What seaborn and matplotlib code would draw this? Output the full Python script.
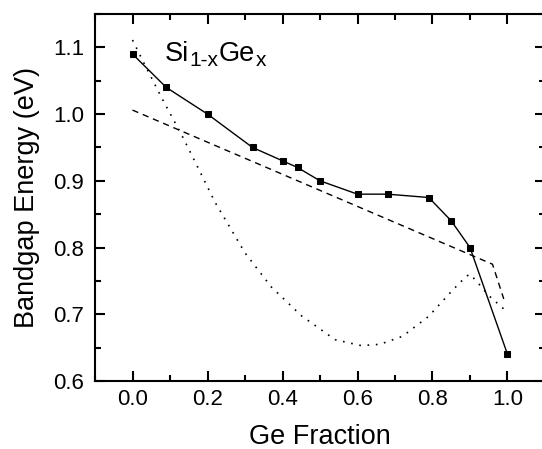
import matplotlib
matplotlib.use("Agg")
import matplotlib.pyplot as plt
from matplotlib.ticker import MultipleLocator
import seaborn as sns
import pandas as pd

# Measured bandgap vs Ge fraction
ge_measured = [0.0, 0.09, 0.2, 0.32, 0.40, 0.44, 0.5, 0.6, 0.68, 0.79, 0.85, 0.9, 1.0]
eg_measured = [1.09, 1.04, 1.0, 0.95, 0.93, 0.92, 0.90, 0.88, 0.88, 0.875, 0.84, 0.80, 0.64]

# Linear (dashed) model
ge_linear = [0.0, 0.96, 0.99]
eg_linear = [1.006, 0.775, 0.723]

# Bowing (dotted) model
ge_bowing = [0.0, 0.03, 0.08, 0.13, 0.17, 0.22, 0.30, 0.37, 0.45, 0.54,
             0.61, 0.66, 0.72, 0.79, 0.85, 0.89, 0.90, 0.92, 0.95, 0.99]
eg_bowing = [1.111, 1.077, 1.022, 0.970, 0.925, 0.868, 0.792, 0.741, 0.698, 0.662,
             0.653, 0.655, 0.667, 0.697, 0.734, 0.757, 0.760, 0.748, 0.728, 0.708]

x_ticks = [0.0, 0.2, 0.4, 0.6, 0.8, 1.0]
y_ticks = [0.6, 0.7, 0.8, 0.9, 1.0, 1.1]

sns.set_theme(style="ticks")
plt.rcParams["font.family"] = ["Liberation Sans", "DejaVu Sans"]

fig = plt.figure(figsize=(5.42, 4.49), dpi=100)
ax = fig.add_axes([95 / 542, 68 / 449, 450 / 542, 367 / 449])

measured = pd.DataFrame({"x": ge_measured, "y": eg_measured})
linear = pd.DataFrame({"x": ge_linear, "y": eg_linear})
bowing = pd.DataFrame({"x": ge_bowing, "y": eg_bowing})

sns.lineplot(data=bowing, x="x", y="y", ax=ax, color="black", lw=1.2,
             linestyle=(0, (1, 4)), sort=False, estimator=None)
sns.lineplot(data=linear, x="x", y="y", ax=ax, color="black", lw=1.0,
             linestyle=(0, (4.5, 3.5)), sort=False, estimator=None)
sns.lineplot(data=measured, x="x", y="y", ax=ax, color="black", lw=1.0,
             marker="s", markersize=5, markeredgecolor="black",
             markerfacecolor="black", sort=False, estimator=None)

ax.set_xlim(-0.1, 1.1)
ax.set_ylim(0.6, 1.15)
ax.set_xticks(x_ticks)
ax.set_yticks(y_ticks)
ax.set_xticklabels([f"{v:.1f}" for v in x_ticks])
ax.set_yticklabels([f"{v:.1f}" for v in y_ticks])
ax.xaxis.set_minor_locator(MultipleLocator(0.1))
ax.yaxis.set_minor_locator(MultipleLocator(0.05))

for side in ["left", "right", "top", "bottom"]:
    ax.spines[side].set_visible(True)
    ax.spines[side].set_linewidth(1.5)
    ax.spines[side].set_color("black")

ax.tick_params(which="both", direction="in", top=True, right=True,
               color="black", width=1.5)
ax.tick_params(which="major", length=7)
ax.tick_params(which="minor", length=4)
ax.tick_params(axis="x", which="major", labelsize=16, pad=6, labelcolor="black")
ax.tick_params(axis="y", which="major", labelsize=16, pad=8, labelcolor="black")

ax.set_xlabel("Ge Fraction", fontsize=19.5, color="black", labelpad=10)
ax.set_ylabel("Bandgap Energy (eV)", fontsize=19.5, color="black", labelpad=9)

# Alloy formula Si(1-x)Ge(x), with subscripts set as separate, smaller text
main_size, sub_size = 19.5, 15
t_si = ax.text(0.086, 1.08, "Si", fontsize=main_size, color="black",
               ha="left", va="baseline")
t_s1 = ax.annotate("1-x", xy=(1, 0), xycoords=t_si, xytext=(0.3, -2.5),
                   textcoords="offset points", fontsize=sub_size,
                   color="black", ha="left", va="bottom")
t_ge = ax.annotate("Ge", xy=(1, 0), xycoords=t_s1, xytext=(0.3, 2.5),
                   textcoords="offset points", fontsize=main_size,
                   color="black", ha="left", va="bottom")
ax.annotate("x", xy=(1, 0), xycoords=t_ge, xytext=(0.3, -2.5),
            textcoords="offset points", fontsize=sub_size,
            color="black", ha="left", va="bottom")

fig.savefig("out.png", dpi=100)
